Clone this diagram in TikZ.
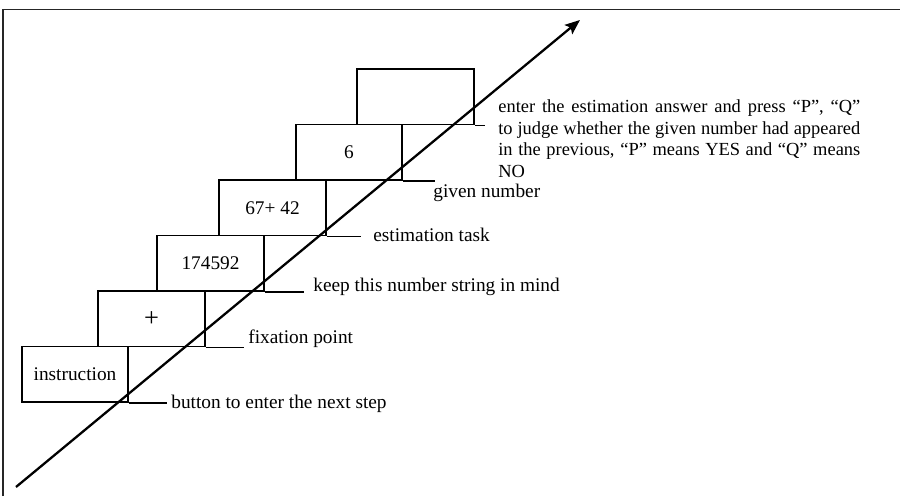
\documentclass[tikz,border=0pt]{standalone}
\usepackage{fontspec}
\setmainfont{Liberation Serif}
\usetikzlibrary{arrows.meta, positioning}

\begin{document}
\begin{tikzpicture}[
        % Style for the step boxes
        stage/.style={draw, rectangle, minimum width=2.13cm, minimum height=1.11cm, inner sep=0pt, line width=1.1pt, font=\fontsize{11}{13}\selectfont},
        wide stage/.style={stage, minimum width=2.34cm},
        % Style for the labels and leader lines
        note/.style={anchor=west, inner sep=0pt, font=\fontsize{11}{13}\selectfont},
        leader/.style={line width=0.8pt},
        timeline/.style={-{Stealth[length=0.3cm, width=0.24cm, inset=0.06cm]}, line width=1.3pt}
    ]
    \useasboundingbox (0, 0) rectangle (18, 9.92);
    
    % Frame
    \draw[line width=1pt, black!85] (0.066, 0) |- (18, 9.73);
    
    % Time axis
    \coordinate (start) at (0.32, 0.18);
    \coordinate (tip) at (11.6, 9.52);
    \draw[timeline] (start) -- (tip);
    
    % Step boxes
    \node[stage] at (1.50, 2.435) (instruction) {instruction};
    \node[stage, font=\fontsize{15}{17}\selectfont] at (3.03, 3.545) (fixation) {+};
    \node[stage] at (4.21, 4.655) (digits) {174592};
    \node[stage] at (5.45, 5.765) (estimate) {67+ 42};
    \node[stage] at (6.98, 6.875) (probe) {6};
    \node[wide stage] at (8.31, 7.985) (answer) {};
    
    % Leader line ends
    \coordinate[right=0.76cm of instruction.south east] (e1);
    \coordinate[right=0.76cm of fixation.south east] (e2);
    \coordinate[right=0.78cm of digits.south east] (e3);
    \coordinate[right=0.68cm of estimate.south east] (e4);
    \coordinate[right=0.64cm of probe.south east] (e5);
    \coordinate[right=0.20cm of answer.south east] (e6);
    
    % Labels
    \node[note] at (3.42, 1.84) (button) {button to enter the next step};
    \node[note] at (4.96, 3.14) (point) {fixation point};
    \node[note] at (6.26, 4.18) (keep) {keep this number string in mind};
    \node[note] at (7.46, 5.22) (task) {estimation task};
    \node[note] at (8.66, 6.06) (given) {given number};
    \node[note, anchor=north west, text width=7.24cm, align=justify, font=\fontsize{10.5}{12.3}\selectfont] at (9.96, 7.93) (judge) {enter the estimation answer and press “P”, “Q”\linebreak to judge whether the given number had appeared\linebreak in the previous, “P” means YES and “Q” means\linebreak NO};
    
    % Drawing leader lines
    \draw[leader] (instruction.south east) -- (e1);
    \draw[leader] (fixation.south east) -- (e2);
    \draw[leader] (digits.south east) -- (e3);
    \draw[leader] (estimate.south east) -- (e4);
    \draw[leader] (probe.south east) -- (e5);
    \draw[leader] (answer.south east) -- (e6);
\end{tikzpicture}
\end{document}
